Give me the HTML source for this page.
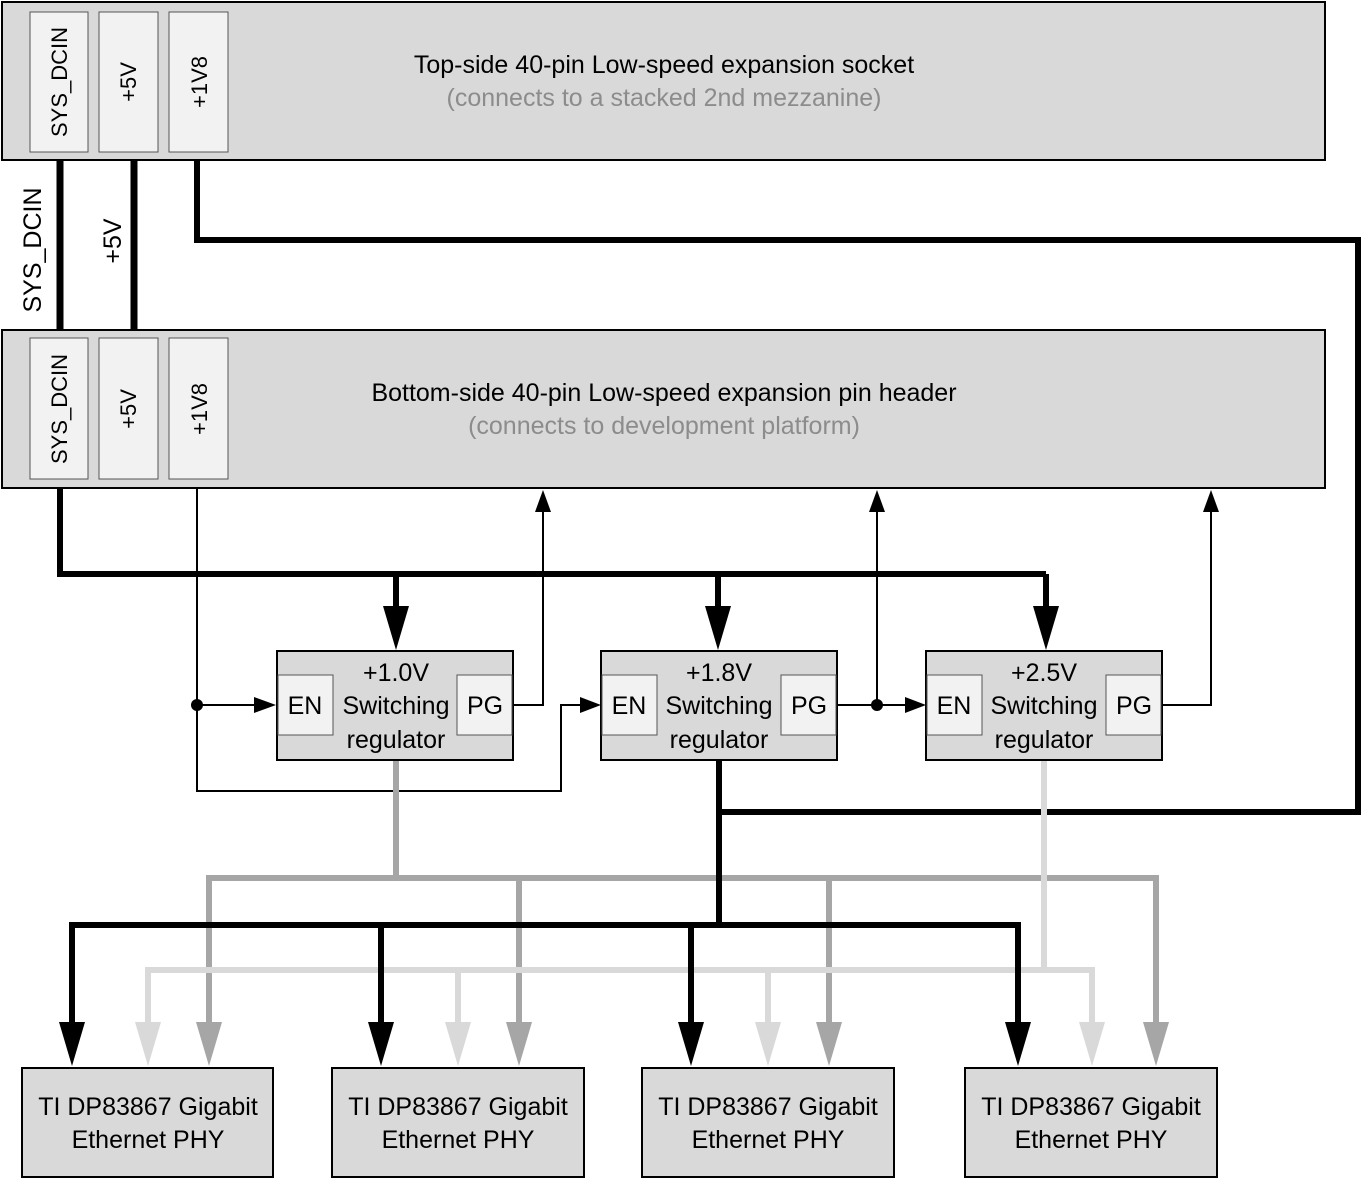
<!DOCTYPE html>
<html><head><meta charset="utf-8"><style>
html,body{margin:0;padding:0;background:#fff}
svg text{font-family:"Liberation Sans",sans-serif;font-size:25px;fill:#000}
svg text.pin{font-size:22px}
</style></head><body>
<svg width="1362" height="1180" viewBox="0 0 1362 1180" xmlns="http://www.w3.org/2000/svg">
<!-- top box -->
<rect x="2" y="2" width="1323" height="158" fill="#d9d9d9" stroke="#000" stroke-width="2"/>
<rect x="30" y="12" width="58" height="140" fill="#f2f2f2" stroke="#555" stroke-width="1"/>
<rect x="99" y="12" width="59" height="140" fill="#f2f2f2" stroke="#555" stroke-width="1"/>
<rect x="169" y="12" width="59" height="140" fill="#f2f2f2" stroke="#555" stroke-width="1"/>
<text class="pin" transform="translate(67,82) rotate(-90)" text-anchor="middle">SYS_DCIN</text>
<text class="pin" transform="translate(136,82) rotate(-90)" text-anchor="middle">+5V</text>
<text class="pin" transform="translate(207,82) rotate(-90)" text-anchor="middle">+1V8</text>
<text x="664" y="73" text-anchor="middle">Top-side 40-pin Low-speed expansion socket</text>
<text x="664" y="106" text-anchor="middle" style="fill:#8c8c8c">(connects to a stacked 2nd mezzanine)</text>
<!-- bottom box -->
<rect x="2" y="330" width="1323" height="158" fill="#d9d9d9" stroke="#000" stroke-width="2"/>
<rect x="30" y="338" width="58" height="141" fill="#f2f2f2" stroke="#555" stroke-width="1"/>
<rect x="99" y="338" width="59" height="141" fill="#f2f2f2" stroke="#555" stroke-width="1"/>
<rect x="169" y="338" width="59" height="141" fill="#f2f2f2" stroke="#555" stroke-width="1"/>
<text class="pin" transform="translate(67,409) rotate(-90)" text-anchor="middle">SYS_DCIN</text>
<text class="pin" transform="translate(136,409) rotate(-90)" text-anchor="middle">+5V</text>
<text class="pin" transform="translate(207,409) rotate(-90)" text-anchor="middle">+1V8</text>
<text x="664" y="401" text-anchor="middle">Bottom-side 40-pin Low-speed expansion pin header</text>
<text x="664" y="434" text-anchor="middle" style="fill:#8c8c8c">(connects to development platform)</text>
<!-- between boxes -->
<line x1="60" y1="161" x2="60" y2="329" stroke="#000" stroke-width="7"/>
<line x1="134" y1="161" x2="134" y2="329" stroke="#000" stroke-width="7"/>
<text transform="translate(41,250) rotate(-90)" text-anchor="middle">SYS_DCIN</text>
<text transform="translate(121,241) rotate(-90)" text-anchor="middle">+5V</text>
<polyline points="197,161 197,240 1358,240 1358,812 719,812" fill="none" stroke="#000" stroke-width="6"/>
<!-- SYS_DCIN distribution -->
<polyline points="60,489 60,574 1046,574" fill="none" stroke="#000" stroke-width="6"/>
<g stroke="#000" stroke-width="6">
<line x1="396" y1="574" x2="396" y2="608"/><line x1="718" y1="574" x2="718" y2="608"/><line x1="1046" y1="574" x2="1046" y2="608"/>
</g>
<g fill="#000">
<path d="M383,606 L409,606 L396,650 Z"/><path d="M705,606 L731,606 L718,650 Z"/><path d="M1033,606 L1059,606 L1046,650 Z"/>
</g>
<!-- +1V8 EN chain -->
<polyline points="197,489 197,791 561,791 561,705 582,705" fill="none" stroke="#000" stroke-width="2"/>
<line x1="197" y1="705" x2="256" y2="705" stroke="#000" stroke-width="2"/>
<circle cx="197" cy="705" r="6" fill="#000"/>
<path d="M254,697 L276,705 L254,713 Z"/>
<path d="M580,697 L601,705 L580,713 Z"/>
<!-- PG lines -->
<polyline points="513,705 543,705 543,512" fill="none" stroke="#000" stroke-width="2"/>
<path d="M535,512 L543,490 L551,512 Z"/>
<polyline points="837,705 906,705" fill="none" stroke="#000" stroke-width="2"/>
<line x1="877" y1="705" x2="877" y2="512" stroke="#000" stroke-width="2"/>
<circle cx="877" cy="705" r="6" fill="#000"/>
<path d="M869,512 L877,490 L885,512 Z"/>
<path d="M905,697 L926,705 L905,713 Z"/>
<polyline points="1162,705 1211,705 1211,512" fill="none" stroke="#000" stroke-width="2"/>
<path d="M1203,512 L1211,490 L1219,512 Z"/>
<!-- regulators -->
<g>
<rect x="277" y="651" width="236" height="109" fill="#d9d9d9" stroke="#000" stroke-width="2"/>
<rect x="278" y="675" width="55" height="60" fill="#f2f2f2" stroke="#555" stroke-width="1"/>
<rect x="457" y="675" width="55" height="60" fill="#f2f2f2" stroke="#555" stroke-width="1"/>
<text x="305" y="714" text-anchor="middle">EN</text><text x="485" y="714" text-anchor="middle">PG</text>
<text x="396" y="681" text-anchor="middle">+1.0V</text><text x="396" y="714" text-anchor="middle">Switching</text><text x="396" y="748" text-anchor="middle">regulator</text>
</g>
<g>
<rect x="601" y="651" width="236" height="109" fill="#d9d9d9" stroke="#000" stroke-width="2"/>
<rect x="602" y="675" width="55" height="60" fill="#f2f2f2" stroke="#555" stroke-width="1"/>
<rect x="781" y="675" width="55" height="60" fill="#f2f2f2" stroke="#555" stroke-width="1"/>
<text x="629" y="714" text-anchor="middle">EN</text><text x="809" y="714" text-anchor="middle">PG</text>
<text x="719" y="681" text-anchor="middle">+1.8V</text><text x="719" y="714" text-anchor="middle">Switching</text><text x="719" y="748" text-anchor="middle">regulator</text>
</g>
<g>
<rect x="926" y="651" width="236" height="109" fill="#d9d9d9" stroke="#000" stroke-width="2"/>
<rect x="927" y="675" width="55" height="60" fill="#f2f2f2" stroke="#555" stroke-width="1"/>
<rect x="1106" y="675" width="55" height="60" fill="#f2f2f2" stroke="#555" stroke-width="1"/>
<text x="954" y="714" text-anchor="middle">EN</text><text x="1134" y="714" text-anchor="middle">PG</text>
<text x="1044" y="681" text-anchor="middle">+2.5V</text><text x="1044" y="714" text-anchor="middle">Switching</text><text x="1044" y="748" text-anchor="middle">regulator</text>
</g>
<!-- 1.0V gray -->
<g stroke="#a6a6a6" stroke-width="6" fill="none">
<line x1="396" y1="761" x2="396" y2="878"/>
<polyline points="209,1024 209,878 1156,878 1156,1024"/>
<line x1="519" y1="878" x2="519" y2="1024"/><line x1="829" y1="878" x2="829" y2="1024"/>
</g>
<g fill="#a6a6a6">
<path d="M196,1022 L222,1022 L209,1066 Z"/><path d="M506,1022 L532,1022 L519,1066 Z"/><path d="M816,1022 L842,1022 L829,1066 Z"/><path d="M1143,1022 L1169,1022 L1156,1066 Z"/>
</g>
<!-- 2.5V light -->
<g stroke="#d9d9d9" stroke-width="6" fill="none">
<line x1="1044" y1="761" x2="1044" y2="970"/>
<polyline points="148,1024 148,970 1092,970 1092,1024"/>
<line x1="458" y1="970" x2="458" y2="1024"/><line x1="768" y1="970" x2="768" y2="1024"/>
</g>
<g fill="#d9d9d9">
<path d="M135,1022 L161,1022 L148,1066 Z"/><path d="M445,1022 L471,1022 L458,1066 Z"/><path d="M755,1022 L781,1022 L768,1066 Z"/><path d="M1079,1022 L1105,1022 L1092,1066 Z"/>
</g>
<!-- 1.8V black -->
<g stroke="#000" stroke-width="6" fill="none">
<line x1="719" y1="761" x2="719" y2="925"/>
<polyline points="72,1024 72,925 1018,925 1018,1024"/>
<line x1="381" y1="925" x2="381" y2="1024"/><line x1="691" y1="925" x2="691" y2="1024"/>
</g>
<g fill="#000">
<path d="M59,1022 L85,1022 L72,1066 Z"/><path d="M368,1022 L394,1022 L381,1066 Z"/><path d="M678,1022 L704,1022 L691,1066 Z"/><path d="M1005,1022 L1031,1022 L1018,1066 Z"/>
</g>
<!-- PHYs -->
<g fill="#d9d9d9" stroke="#000" stroke-width="2">
<rect x="22" y="1068" width="251" height="109"/><rect x="332" y="1068" width="252" height="109"/><rect x="642" y="1068" width="252" height="109"/><rect x="965" y="1068" width="252" height="109"/>
</g>
<g text-anchor="middle" style="font-size:24.5px">
<text x="148" y="1115">TI DP83867 Gigabit</text><text x="148" y="1148">Ethernet PHY</text>
<text x="458" y="1115">TI DP83867 Gigabit</text><text x="458" y="1148">Ethernet PHY</text>
<text x="768" y="1115">TI DP83867 Gigabit</text><text x="768" y="1148">Ethernet PHY</text>
<text x="1091" y="1115">TI DP83867 Gigabit</text><text x="1091" y="1148">Ethernet PHY</text>
</g>
</svg>
</body></html>
